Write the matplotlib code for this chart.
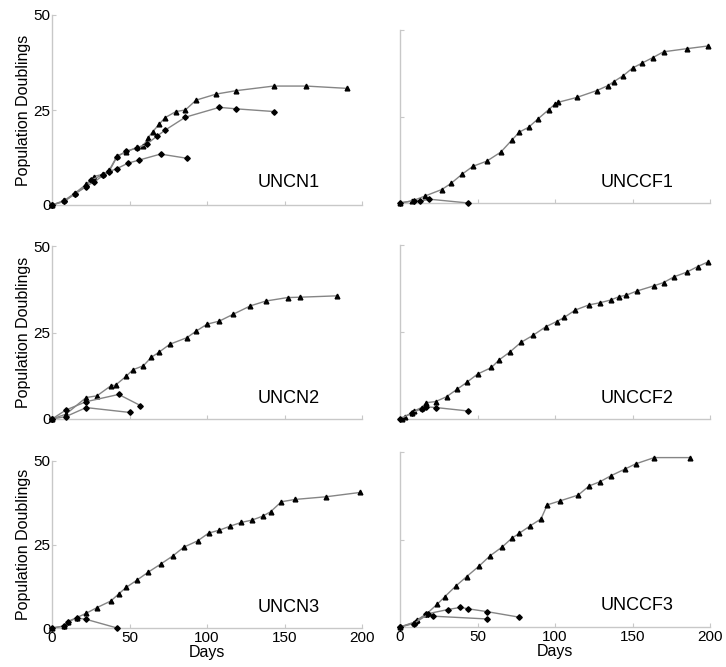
import matplotlib.pyplot as plt

plt.rcParams['font.family'] = ['Liberation Sans', 'DejaVu Sans']

# UNCN1
uncn1_a_days = [0, 8, 15, 22, 27, 33, 37, 42, 48, 55, 59, 62, 65, 69, 73, 80, 86, 93, 106, 119, 143, 164, 190]
uncn1_a_pd = [0, 1.2, 3.2, 5.4, 7.5, 8.1, 9.2, 12.9, 14.0, 15.2, 15.6, 17.7, 19.3, 21.2, 23.0, 24.6, 25.0, 27.6, 29.2, 30.1, 31.3, 31.3, 30.7]
uncn1_b_days = [0, 8, 15, 22, 25, 33, 37, 42, 48, 55, 61, 68, 73, 86, 108, 119, 143]
uncn1_b_pd = [0, 1.0, 3.0, 4.8, 6.5, 8.0, 9.0, 12.7, 14.2, 15.0, 16.0, 18.2, 19.7, 23.1, 25.7, 25.3, 24.6]
uncn1_c_days = [0, 8, 15, 22, 27, 33, 37, 42, 49, 56, 70, 87]
uncn1_c_pd = [0, 1.0, 3.0, 5.0, 6.0, 7.8, 8.8, 9.6, 11.0, 11.8, 13.4, 12.3]

# UNCCF1
unccf1_a_days = [0, 8, 16, 27, 33, 40, 47, 56, 65, 72, 77, 83, 89, 96, 100, 102, 114, 127, 134, 138, 144, 150, 156, 163, 170, 185, 199]
unccf1_a_pd = [0, 0.6, 2.0, 3.9, 5.7, 8.3, 10.6, 12.1, 14.7, 18.1, 20.5, 21.9, 24.3, 27.0, 28.6, 29.1, 30.5, 32.5, 33.9, 35.1, 36.8, 39.0, 40.4, 42.0, 43.7, 44.6, 45.4]
unccf1_b_days = [0, 9, 13, 19, 44]
unccf1_b_pd = [0, 0.7, 0.5, 1.1, 0]

# UNCN2
uncn2_a_days = [0, 9, 22, 29, 38, 41, 48, 52, 59, 64, 69, 76, 87, 93, 100, 108, 117, 128, 138, 152, 160, 184]
uncn2_a_pd = [0, 1.4, 6.2, 6.7, 9.6, 9.8, 12.4, 14.2, 15.4, 17.8, 19.3, 21.6, 23.5, 25.4, 27.4, 28.3, 30.3, 32.7, 34.1, 35.1, 35.2, 35.6]
uncn2_b_days = [0, 9, 22, 43, 57]
uncn2_b_pd = [0, 2.6, 5.0, 7.1, 3.9]
uncn2_c_days = [0, 9, 22, 50]
uncn2_c_pd = [0, 0.7, 3.3, 1.9]

# UNCCF2
unccf2_a_days = [1, 3, 8, 9, 14, 17, 23, 30, 37, 43, 50, 59, 64, 71, 78, 86, 94, 101, 106, 113, 122, 129, 136, 141, 146, 153, 164, 170, 177, 185, 192, 199]
unccf2_a_pd = [0, 0.7, 1.8, 2.3, 3.3, 4.7, 5.0, 6.4, 8.6, 10.5, 12.9, 14.8, 17.0, 19.3, 22.0, 24.1, 26.5, 28.0, 29.2, 31.3, 32.8, 33.4, 34.2, 35.1, 35.6, 36.8, 38.3, 39.2, 40.9, 42.2, 43.8, 45.2]
unccf2_b_days = [0, 8, 14, 17, 23, 44]
unccf2_b_pd = [0, 1.8, 3.0, 3.5, 3.3, 2.3]

# UNCN3
uncn3_a_days = [0, 8, 10, 16, 22, 29, 38, 43, 48, 55, 62, 70, 78, 85, 94, 101, 108, 115, 122, 129, 136, 141, 148, 157, 177, 199]
uncn3_a_pd = [0, 0.6, 1.9, 3.1, 4.4, 6.1, 8.1, 10.2, 12.2, 14.4, 16.7, 19.1, 21.6, 24.2, 26.1, 28.4, 29.3, 30.5, 31.6, 32.3, 33.5, 34.8, 37.8, 38.5, 39.3, 40.6]
uncn3_b_days = [0, 8, 10, 16, 22, 42]
uncn3_b_pd = [0, 0.6, 1.8, 3.0, 2.6, 0]

# UNCCF3
unccf3_a_days = [0, 9, 11, 17, 24, 29, 36, 43, 51, 58, 66, 72, 77, 84, 91, 95, 103, 115, 122, 129, 136, 145, 152, 164, 187]
unccf3_a_pd = [0, 1.2, 2.0, 3.7, 6.5, 8.7, 11.7, 14.4, 17.4, 20.3, 22.9, 25.3, 26.8, 28.9, 30.9, 34.9, 36.0, 37.7, 40.3, 41.5, 43.2, 45.1, 46.6, 48.4, 48.4]
unccf3_b_days = [0, 10, 17, 31, 39, 44, 56, 77]
unccf3_b_pd = [0, 1.5, 3.7, 5.0, 5.6, 5.2, 4.4, 2.8]
unccf3_c_days = [0, 9, 18, 21, 56]
unccf3_c_pd = [0, 1.0, 3.6, 3.1, 2.3]

W, H = 726, 667
fig = plt.figure(figsize=(W / 100, H / 100), dpi=100)


def make_axes(x0, x1, ytop, ybot):
    return fig.add_axes([x0 / W, (H - ybot) / H, (x1 - x0) / W, (ybot - ytop) / H])


def draw_panel(ax, series, name, left, bottom):
    for days, pd, marker in series:
        ax.plot(days, pd, color='#858585', lw=1.0, marker=marker, ms=3.4 if marker == '^' else 2.8,
                mfc='black', mec='black', clip_on=False, zorder=3)
    ax.set_xlim(0, 200)
    ax.set_ylim(0, 50)
    for s in ['top', 'right']:
        ax.spines[s].set_visible(False)
    for s in ['left', 'bottom']:
        ax.spines[s].set_color('#c8c8c8')
        ax.spines[s].set_linewidth(1.0)
    ax.set_xticks([0, 50, 100, 150, 200])
    ax.set_yticks([0, 25, 50])
    ax.tick_params(direction='in', length=3, color='#c8c8c8', labelsize=11)
    ax.tick_params(axis='y', pad=1)
    ax.tick_params(axis='x', pad=2)
    if not left:
        ax.set_yticklabels([])
    else:
        ax.set_ylabel('Population Doublings', fontsize=11.5, labelpad=2)
    if not bottom:
        ax.set_xticklabels([])
    else:
        ax.set_xlabel('Days', fontsize=11.5, labelpad=0)
    ax.text(0.765, 0.12, name, transform=ax.transAxes, fontsize=13, ha='center', va='center')


ax1 = make_axes(52, 362, 15, 205)
draw_panel(ax1, [(uncn1_a_days, uncn1_a_pd, '^'), (uncn1_b_days, uncn1_b_pd, 'D'),
                 (uncn1_c_days, uncn1_c_pd, 'D')], 'UNCN1', True, False)
ax2 = make_axes(400, 710, 30, 203)
draw_panel(ax2, [(unccf1_a_days, unccf1_a_pd, '^'), (unccf1_b_days, unccf1_b_pd, 'D')],
           'UNCCF1', False, False)
ax3 = make_axes(52, 362, 246, 419)
draw_panel(ax3, [(uncn2_a_days, uncn2_a_pd, '^'), (uncn2_b_days, uncn2_b_pd, 'D'),
                 (uncn2_c_days, uncn2_c_pd, 'D')], 'UNCN2', True, False)
ax4 = make_axes(400, 710, 245, 419)
draw_panel(ax4, [(unccf2_a_days, unccf2_a_pd, '^'), (unccf2_b_days, unccf2_b_pd, 'D')],
           'UNCCF2', False, False)
ax5 = make_axes(52, 362, 461, 628)
draw_panel(ax5, [(uncn3_a_days, uncn3_a_pd, '^'), (uncn3_b_days, uncn3_b_pd, 'D')],
           'UNCN3', True, True)
ax6 = make_axes(400, 710, 452, 627)
draw_panel(ax6, [(unccf3_a_days, unccf3_a_pd, '^'), (unccf3_b_days, unccf3_b_pd, 'D'),
                 (unccf3_c_days, unccf3_c_pd, 'D')], 'UNCCF3', False, True)

fig.savefig('out.png', dpi=100)
